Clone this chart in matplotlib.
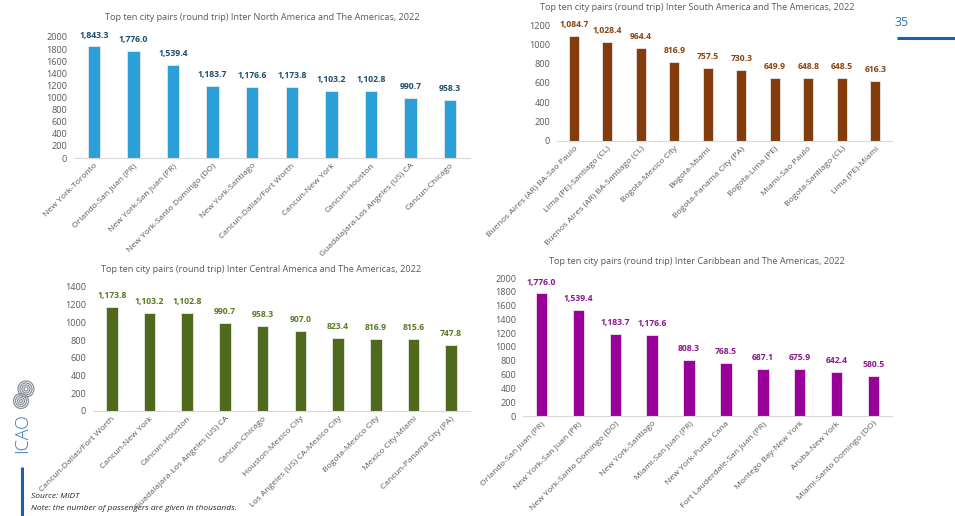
import matplotlib
matplotlib.use("Agg")
import matplotlib.pyplot as plt
from matplotlib.patches import Circle

plt.rcParams['font.family'] = ['Open Sans', 'DejaVu Sans']

W, H = 955, 516

# --- data (thousands of passengers, round trip) ---
na_pairs = ["New York-Toronto", "Orlando-San Juan (PR)", "New York-San Juan (PR)",
            "New York-Santo Domingo (DO)", "New York-Santiago", "Cancun-Dallas/Fort Worth",
            "Cancun-New York", "Cancun-Houston", "Guadalajara-Los Angeles (US) CA",
            "Cancun-Chicago"]
na_values = [1843.3, 1776.0, 1539.4, 1183.7, 1176.6, 1173.8, 1103.2, 1102.8, 990.7, 958.3]

sa_pairs = ["Buenos Aires (AR) BA-Sao Paulo", "Lima (PE)-Santiago (CL)",
            "Buenos Aires (AR) BA-Santiago (CL)", "Bogota-Mexico City", "Bogota-Miami",
            "Bogota-Panama City (PA)", "Bogota-Lima (PE)", "Miami-Sao Paulo",
            "Bogota-Santiago (CL)", "Lima (PE)-Miami"]
sa_values = [1084.7, 1028.4, 964.4, 816.9, 757.5, 730.3, 649.9, 648.8, 648.5, 616.3]

ca_pairs = ["Cancun-Dallas/Fort Worth", "Cancun-New York", "Cancun-Houston",
            "Guadalajara-Los Angeles (US) CA", "Cancun-Chicago", "Houston-Mexico City",
            "Los Angeles (US) CA-Mexico City", "Bogota-Mexico City", "Mexico City-Miami",
            "Cancun-Panama City (PA)"]
ca_values = [1173.8, 1103.2, 1102.8, 990.7, 958.3, 907.0, 823.4, 816.9, 815.6, 747.8]

cb_pairs = ["Orlando-San Juan (PR)", "New York-San Juan (PR)", "New York-Santo Domingo (DO)",
            "New York-Santiago", "Miami-San Juan (PR)", "New York-Punta Cana",
            "Fort Lauderdale-San Juan (PR)", "Montego Bay-New York", "Aruba-New York",
            "Miami-Santo Domingo (DO)"]
cb_values = [1776.0, 1539.4, 1183.7, 1176.6, 808.3, 768.5, 687.1, 675.9, 642.4, 580.5]

fig = plt.figure(figsize=(W / 100, H / 100), dpi=100)
fig.patch.set_facecolor('white')


def panel(px, title, pairs, values, ymax, bar_col, lab_col, title_xy):
    x0, x1, ytop, ybot = px
    ax = fig.add_axes([x0 / W, (H - ybot) / H, (x1 - x0) / W, (ybot - ytop) / H])
    pos = range(len(values))
    ax.bar(pos, values, width=0.31, color=bar_col, edgecolor='#e8e8e8', linewidth=0.6)
    for p, v in zip(pos, values):
        ax.annotate(f"{v:,.1f}", (p, v), xytext=(0, 5), textcoords='offset points',
                    ha='center', va='bottom', fontsize=6.2, fontweight='bold', color=lab_col)
    ax.set_xlim(-0.5, len(values) - 0.5)
    ax.set_ylim(0, ymax)
    ax.set_yticks(range(0, ymax + 1, 200))
    ax.set_xticks(list(pos))
    ax.set_xticklabels(pairs, rotation=45, ha='right', rotation_mode='anchor')
    ax.tick_params(axis='both', length=0, labelcolor='#595959', pad=3)
    ax.tick_params(axis='x', labelsize=6.1)
    ax.tick_params(axis='y', labelsize=6.6, pad=5)
    for s in ['top', 'right', 'left']:
        ax.spines[s].set_visible(False)
    ax.spines['bottom'].set_color('#d9d9d9')
    ax.spines['bottom'].set_linewidth(0.8)
    fig.text(title_xy[0] / W, 1 - title_xy[1] / H, title, ha='center', va='center',
             fontsize=6.6, color='#595959')
    return ax


panel((74, 470, 37, 158),
      "Top ten city pairs (round trip) Inter North America and The Americas, 2022",
      na_pairs, na_values, 2000, '#2a9fd8', '#1f4e6e', (262, 17))
panel((557, 892, 25, 141),
      "Top ten city pairs (round trip) Inter South America and The Americas, 2022",
      sa_pairs, sa_values, 1200, '#843c0c', '#8b4513', (697, 7))
panel((93, 470, 287, 411),
      "Top ten city pairs (round trip) Inter Central America and The Americas, 2022",
      ca_pairs, ca_values, 1400, '#4f6a1c', '#5c7a22', (261, 269))
panel((523, 892, 278, 416),
      "Top ten city pairs (round trip) Inter Caribbean and The Americas, 2022",
      cb_pairs, cb_values, 2000, '#990099', '#8b1a8b', (697, 261))

# page furniture: page number, rule, logo, footnotes
over = fig.add_axes([0, 0, 1, 1], zorder=-1)
over.set_xlim(0, W)
over.set_ylim(H, 0)
over.axis('off')
over.text(902, 22, "35", ha='center', va='center', fontsize=9, color='#2e75b6')
over.plot([897, 955], [38, 38], color='#1f5fa8', lw=2.2, solid_capstyle='butt')
over.plot([22, 22], [467, 516], color='#1f5fa8', lw=2.2, solid_capstyle='butt')
over.text(22, 433, "ICAO", rotation=90, ha='center', va='center', fontsize=13,
          color='#2e75b6', fontweight='light')
for cx, cy, r in [(26, 389, 8.0), (21, 401, 7.5)]:
    for k in range(4):
        over.add_patch(Circle((cx, cy), r - k * 2.0, fill=False, ec='#8a9199', lw=0.9))
over.text(31, 497, "Source: MIDT", ha='left', va='center', fontsize=6, style='italic',
          color='#262626')
over.text(31, 509, "Note: the number of passengers are given in thousands.", ha='left',
          va='center', fontsize=6, style='italic', color='#262626')

fig.savefig("out.png", dpi=100)
